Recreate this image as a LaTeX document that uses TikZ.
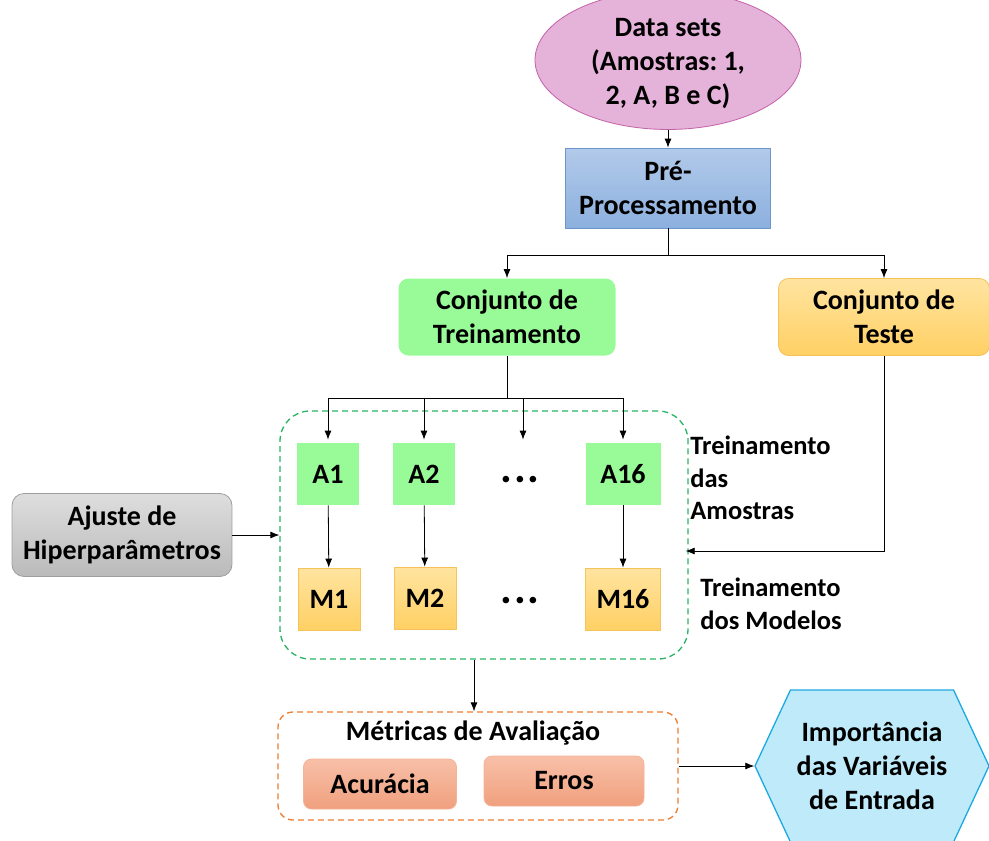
\documentclass[tikz,border=0pt]{standalone}
\usepackage{fontspec}
\setmainfont{Carlito}
\usetikzlibrary{arrows.meta, calc, positioning, shapes.geometric, shapes.symbols}
\definecolor{mypink}{RGB}{229,178,218}
\definecolor{mypinkdark}{RGB}{196,98,168}
\definecolor{myblue}{RGB}{178,202,234}
\definecolor{mybluedark}{RGB}{140,176,222}
\definecolor{mybluebord}{RGB}{110,150,205}
\definecolor{mygreen}{RGB}{152,251,152}
\definecolor{mydash}{RGB}{40,180,100}
\definecolor{mygold}{RGB}{255,228,160}
\definecolor{mygolddark}{RGB}{255,208,100}
\definecolor{mygoldbord}{RGB}{245,195,90}
\definecolor{mygray}{RGB}{222,222,222}
\definecolor{mygraydark}{RGB}{186,186,186}
\definecolor{myorange}{RGB}{237,125,49}
\definecolor{mysalmon}{RGB}{248,192,168}
\definecolor{mysalmondark}{RGB}{240,160,126}
\definecolor{mycyan}{RGB}{190,234,250}
\definecolor{mycyandark}{RGB}{28,170,225}
\frenchspacing

\tikzset{
	block/.style={align=center, inner sep=0pt},
	goldbox/.style={block, draw=mygoldbord, top color=mygold, bottom color=mygolddark},
	greenbox/.style={block, fill=mygreen, minimum width=62, minimum height=62},
	salmonbox/.style={block, draw=mysalmondark!80, top color=mysalmon, bottom color=mysalmondark, rounded corners=8, minimum height=50},
	sidelabel/.style={block, align=left, anchor=west, font=\fontsize{26.5}{32.5}\selectfont\bfseries},
	dotsnode/.style={block, font=\fontsize{44}{44}\selectfont\bfseries},
}

\begin{document}
\begin{tikzpicture}[x=1pt, y=-1pt, line width=0.8pt, >={Latex[length=9pt, width=7pt]}, font=\fontsize{28}{34}\selectfont\bfseries]
	\useasboundingbox (0,0) rectangle (989,841);
	
	\node[block, ellipse, draw=mypinkdark, fill=mypink, minimum width=266, minimum height=118] (data) at (668,60) {\\[-8pt]Data sets\\(Amostras: 1,\\2, A, B e C)};
	\node[block, draw=mybluebord, top color=myblue, bottom color=mybluedark, minimum width=205, minimum height=80] (pre) at (668,188) {Pré-\\Processamento};
	
	\node[block, fill=mygreen, rounded corners=10, minimum width=217, minimum height=77] (treino) at (507,317) {Conjunto de\\Treinamento};
	\node[goldbox, rounded corners=10, minimum width=211, minimum height=77] (teste) at (884,317) {Conjunto de\\Teste};
	
	\node[greenbox] (a1) at (328,474) {A1};
	\node[greenbox] (a2) at (424,474) {A2};
	\node[dotsnode, minimum height=74] (adots) at (520,480) {.\hspace{2pt}.\hspace{2pt}.};
	\node[greenbox, minimum width=75] (a16) at (623,474) {A16};
	
	\node[goldbox, minimum width=62, minimum height=62] (m1) at (329,599) {M1};
	\node[goldbox, minimum width=62, minimum height=62] (m2) at (425,598) {M2};
	\node[dotsnode] (mdots) at (520,601) {.\hspace{2pt}.\hspace{2pt}.};
	\node[goldbox, minimum width=75, minimum height=62] (m16) at (623,599) {M16};
	
	\node[block, draw=mydash, dash pattern=on 6pt off 4pt, line width=1.3pt, rounded corners=30, minimum width=408, minimum height=248] (train) at (484,535) {};
	
	\node[block, draw=mygraydark!85!black, top color=mygray, bottom color=mygraydark, rounded corners=12, minimum width=220, minimum height=83] (ajuste) at (122,535) {Ajuste de\\Hiperparâmetros};
	
	\node[sidelabel] (lblA) at (690,478) {Treinamento\\das\\Amostras};
	\node[sidelabel] (lblM) at (700,604) {Treinamento\\dos Modelos};
	
	\node[block, draw=myorange, dash pattern=on 6pt off 4pt, line width=1.3pt, rounded corners=15, minimum width=400, minimum height=108] (metr) at (478,766) {};
	\node[block] (metrlbl) at (473,733) {Métricas de Avaliação};
	\node[salmonbox, minimum width=153] (acc) at (380,784) {Acurácia};
	\node[salmonbox, minimum width=160] (err) at (564,781) {Erros};
	
	\node[block, signal, signal to=west and east, signal pointer angle=130, draw=mycyandark, fill=mycyan, line width=1.3pt, minimum width=234, minimum height=152] (imp) at (872,766) {Importância\\das Variáveis\\de Entrada};
	
	% connectors
	\draw[->] (data) -- (pre);
	\coordinate (s1) at (668,255);
	\draw (pre) -- (s1);
	\draw[->] (s1) -| (treino);
	\draw[->] (s1) -| (teste);
	
	\coordinate (s2) at (507,398);
	\draw (treino) -- (s2);
	\foreach \n in {a1, a2, a16}
		\draw[->] (s2) -| ([yshift=3pt]\n.north);
	\draw[->] (s2) -| ([xshift=3pt, yshift=3pt]adots.north);
	
	\draw[->] (a1) -- (m1);
	\draw[->] (a2) -- (m2);
	\draw[->] (a16) -- (m16);
	
	\draw[->] (ajuste) -- (train.west);
	\draw[->] (teste.south) |- ([xshift=-3pt, yshift=-16pt]train.east);
	\draw[->] ([xshift=-10pt]train.south) -- ([xshift=-4pt]metr.north);
	\draw[->] (metr.east) -- (imp.west);
\end{tikzpicture}
\end{document}
